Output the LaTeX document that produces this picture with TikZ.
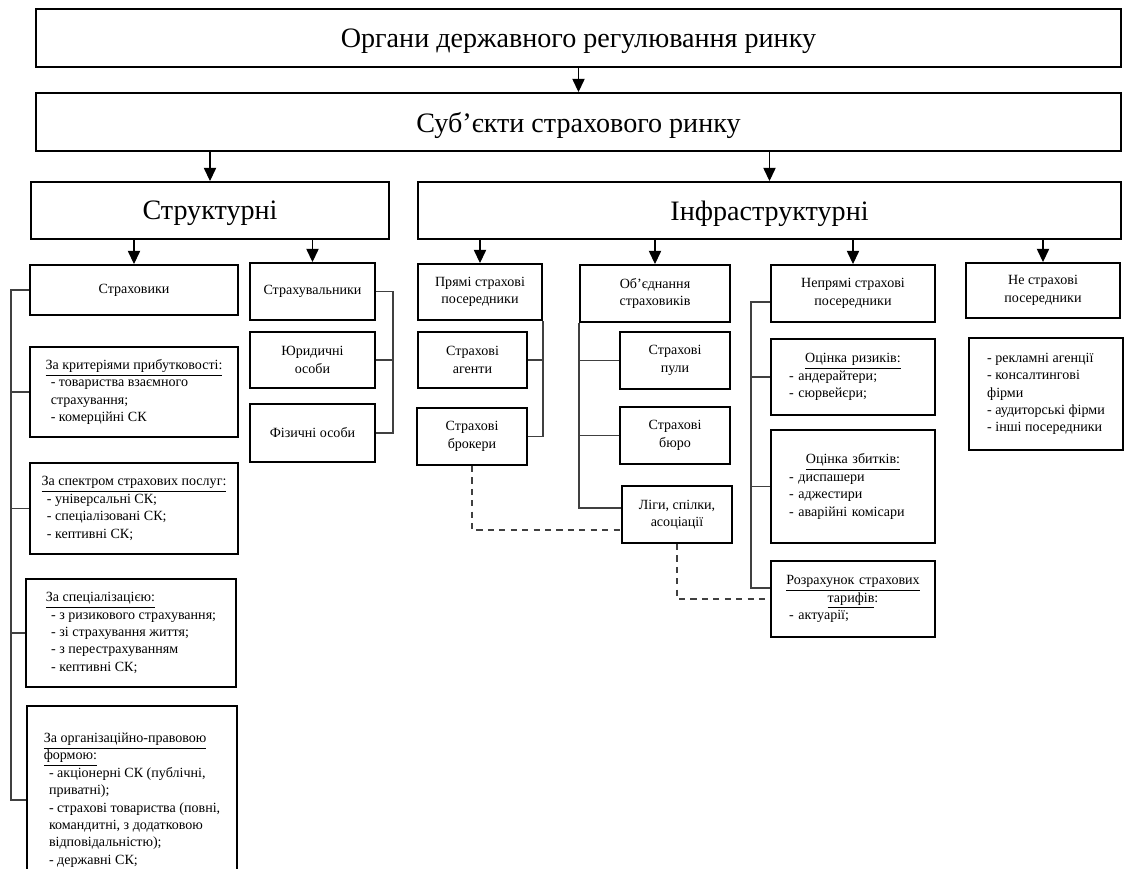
\documentclass[tikz,border=0pt]{standalone}
\usepackage{fontspec}
\setmainfont{Liberation Serif}
\usepackage{tikz}
\usetikzlibrary{arrows.meta}
\tikzset{>={Triangle[width=7pt,length=7.5pt]}}
\newcommand{\hd}[1]{\underline{#1}}
\newcommand{\ii}{\hspace*{3pt}}
\newcommand{\ctr}[1]{\makebox[\linewidth][c]{#1}}
\tikzset{%
    box/.style 2 args={draw, line width=1.1pt, minimum width=#1*0.02cm,
        minimum height=#2*0.02cm, inner sep=0pt, align=center,
        font=\fontsize{8}{9.9}\selectfont},
    big/.style={font=\fontsize{16}{19}\selectfont, text depth=0pt},
    lst/.style={align=left},
    mix/.style={text width=2.56cm, align=left},
    conn/.style={line width=0.9pt, black!75},
    dline/.style={conn, dash pattern=on 3.5pt off 3pt},
    arr/.style={->, line width=0.6pt}
}

\begin{document}
\begin{tikzpicture}[x=0.02cm, y=-0.02cm]
\useasboundingbox (0,0) rectangle (1127,869);
\clip (0,0) rectangle (1127,869);

\node[box={1085}{58}, big] (org) at (578.5,38) {Органи державного регулювання ринку};
\node[box={1085}{58}, big] (subj) at (578.5,122) {Суб’єкти страхового ринку};
\node[box={358}{57}, big] (struct) at (210,210.5) {Структурні};
\node[box={703}{57}, big] (infra) at (769.5,210.5) {Інфраструктурні};

\node[box={208}{50}] (ins) at (134,290) {Страховики};
\node[box={125}{57}] (insd) at (312.5,291.5) {Страхувальники};
\node[box={125}{56}] (legal) at (312.5,360) {Юридичні\\особи};
\node[box={125}{58}] (phys) at (312.5,433) {Фізичні особи};

\node[box={208}{90}, lst] (crit) at (134,392) {\hd{За критеріями прибутковості:}\\\ii- товариства взаємного\\\ii страхування;\\\ii- комерційні СК};
\node[box={208}{91}, lst] (spec) at (134,508.5) {\hd{За спектром страхових послуг:}\\\ii- універсальні СК;\\\ii- спеціалізовані СК;\\\ii- кептивні СК;};
\node[box={210}{108}, lst] (spz) at (131,633) {\hd{За спеціалізацією:}\\\ii- з ризикового страхування;\\\ii- зі страхування життя;\\\ii- з перестрахуванням\\\ii- кептивні СК;};
\node[box={210}{188}, lst] (form) at (132,800) {\hd{За організаційно-правовою}\\\hd{формою:}\\\ii- акціонерні СК (публічні,\\\ii приватні);\\\ii- страхові товариства (повні,\\\ii командитні, з додатковою\\\ii відповідальністю);\\\ii- державні СК;};

\node[box={124}{56}] (dir) at (480,292) {Прямі страхові\\посередники};
\node[box={109}{56}] (agt) at (472.5,360) {Страхові\\агенти};
\node[box={110}{57}] (brk) at (472,436.5) {Страхові\\брокери};
\node[box={150}{57}] (assoc) at (655,293.5) {Об’єднання\\страховиків};
\node[box={110}{57}] (pool) at (675,360.5) {Страхові\\пули};
\node[box={110}{57}] (bur) at (675,435.5) {Страхові\\бюро};
\node[box={110}{57}] (lig) at (677,514.5) {Ліги, спілки,\\асоціації};

\node[box={164}{57}] (indir) at (853,293.5) {Непрямі страхові\\посередники};
\node[box={164}{76}, mix] (risk) at (853,377) {\ctr{\hd{Оцінка ризиків:}}\\- андерайтери;\\- сюрвейєри;};
\node[box={164}{113}, mix] (loss) at (853,486.5) {\ctr{\hd{Оцінка збитків:}}\\- диспашери\\- аджестири\\- аварійні комісари};
\node[box={164}{76}, mix] (tarif) at (853,599) {\ctr{\hd{Розрахунок страхових}}\\\ctr{\hd{тарифів}:}\\- актуарії;};
\node[box={154}{55}] (nonins) at (1043,290.5) {Не страхові\\посередники};
\node[box={154}{112}, lst] (nonlst) at (1046,394) {- рекламні агенції\\- консалтингові\\фірми\\- аудиторські фірми\\- інші посередники};

\draw[arr] (org) -- (subj);
\draw[arr] (struct.north |- subj.south) -- (struct.north);
\draw[arr] (infra.north |- subj.south) -- (infra.north);
\foreach \n in {ins,insd}
    \draw[arr] (\n.north |- struct.south) -- (\n.north);
\foreach \n in {dir,assoc,indir,nonins}
    \draw[arr] (\n.north |- infra.south) -- (\n.north);

\draw[conn] (ins.west) -- ++(-18,0) coordinate (lb) |- (form.west);
\foreach \n in {crit,spec,spz}
    \draw[conn] (\n.west) -- (\n.west -| lb);
\draw[conn] (insd.east) -- ++(17,0) coordinate (rb) |- (phys.east);
\draw[conn] (legal.east) -- (legal.east -| rb);

\draw[conn] (dir.south east) |- (brk.east);
\draw[conn] (agt.east) -- (agt.east -| dir.south east);
\draw[conn] (assoc.south west) |- ([yshift=0.13cm]lig.west);
\foreach \n in {pool,bur}
    \draw[conn] (\n.west) -- (\n.west -| assoc.south west);

\draw[conn] ([yshift=-0.17cm]indir.west) -- ++(-19,0) coordinate (ib) |- ([yshift=0.22cm]tarif.west);
\foreach \n in {risk,loss}
    \draw[conn] (\n.west) -- (\n.west -| ib);

\draw[dline] (brk.south) |- ([yshift=-0.31cm]lig.west);
\draw[dline] (lig.south) |- (tarif.west);
\end{tikzpicture}
\end{document}
